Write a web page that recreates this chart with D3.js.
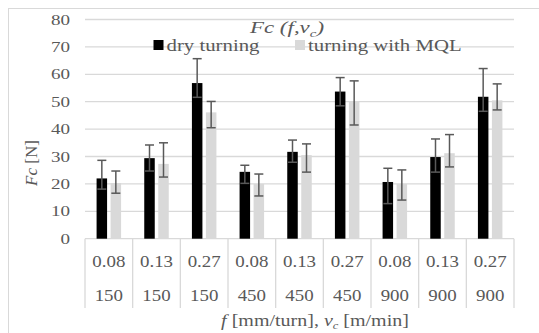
<!DOCTYPE html>
<html>
<head>
<meta charset="utf-8">
<script src="https://cdn.jsdelivr.net/npm/d3@7"></script>
<style>
  body { margin: 0; background: #fff; }
  text { font-family: "Liberation Serif", "Times New Roman", serif; fill: #595959; }
</style>
</head>
<body>
<svg id="chart" width="539" height="333"></svg>
<script>
//// data
var feeds  = ["0.08", "0.13", "0.27", "0.08", "0.13", "0.27", "0.08", "0.13", "0.27"];
var speeds = ["150", "150", "150", "450", "450", "450", "900", "900", "900"];
var dry    = [22, 29.4, 56.8, 24.4, 31.7, 53.7, 20.7, 29.8, 51.8];
var dryHi  = [28.6, 34.2, 65.7, 26.8, 36.0, 58.8, 25.7, 36.4, 62.1];
var dryLo  = [18.1, 24.7, 51.6, 20.2, 27.9, 48.5, 12.8, 24.3, 46.5];
var mql    = [20.3, 27.3, 46.1, 20, 30.5, 50, 20, 31.2, 50.5];
var mqlHi  = [24.7, 35.0, 50.1, 23.6, 34.6, 57.6, 25.1, 38.0, 56.5];
var mqlLo  = [16.6, 22.5, 40.5, 15.6, 24.3, 41.5, 14.1, 26.2, 47.0];
var yTicks = [0, 10, 20, 30, 40, 50, 60, 70, 80];
var seriesNames = ["dry turning", "turning with MQL"];

//// define parameters
var svg = d3.select("svg#chart");
var plotL = 85, plotR = 514, plotT = 19.5, plotB = 238.7,
    barW = 10.5, gap = 3.5, capW = 4.5,
    gridCol = "#d9d9d9", errCol = "#595959",
    colors = ["#000000", "#d9d9d9"];

var x = d3.scaleBand().domain(d3.range(feeds.length)).range([plotL, plotR]);
var y = d3.scaleLinear().domain([0, 80]).range([plotB, plotT]);

// text helper, the picture is stretched sideways a bit
function label(px, py, size, sx, anchor) {
  return svg.append("g")
    .attr("transform", "translate(" + px + "," + py + ") scale(" + sx + ",1)")
    .append("text")
    .attr("font-size", size)
    .attr("text-anchor", anchor || "start");
}

// outer frame
svg.append("rect")
  .attr("x", 8.5).attr("y", 8.5)
  .attr("width", 560).attr("height", 360)
  .attr("fill", "none").attr("stroke", gridCol).attr("stroke-width", 1);

// gridlines
svg.selectAll("line.grid")
  .data(yTicks)
  .enter().append("line")
  .attr("class", "grid")
  .attr("x1", plotL).attr("x2", plotR)
  .attr("y1", function(d) { return y(d); })
  .attr("y2", function(d) { return y(d); })
  .attr("stroke", gridCol)
  .attr("stroke-width", 1.3);

// y tick labels
yTicks.forEach(function(t) {
  label(70, y(t) + 5, 15, 1.27, "end").text(t);
});

// category separators
var edges = d3.range(feeds.length + 1).map(function(i) {
  return i < feeds.length ? x(i) : x(i - 1) + x.bandwidth();
});
svg.selectAll("line.sep")
  .data(edges)
  .enter().append("line")
  .attr("class", "sep")
  .attr("x1", function(d) { return d; })
  .attr("x2", function(d) { return d; })
  .attr("y1", plotB).attr("y2", 308)
  .attr("stroke", gridCol)
  .attr("stroke-width", 1.3);

// category labels, two rows
feeds.forEach(function(f, i) {
  var cx = x(i) + x.bandwidth() / 2;
  label(cx, 267, 16, 1.18, "middle").text(f);
  label(cx, 301, 16, 1.18, "middle").text(speeds[i]);
});

// bars
var series = [
  {vals: dry, hi: dryHi, lo: dryLo, off: -gap / 2 - barW},
  {vals: mql, hi: mqlHi, lo: mqlLo, off: gap / 2}
];

series.forEach(function(s, k) {
  svg.selectAll("rect.bar" + k)
    .data(s.vals)
    .enter().append("rect")
    .attr("class", "bar" + k)
    .attr("x", function(d, i) { return x(i) + x.bandwidth() / 2 + s.off; })
    .attr("y", function(d) { return y(d); })
    .attr("width", barW)
    .attr("height", function(d) { return y(0) - y(d); })
    .attr("fill", colors[k]);
});

// error bars
series.forEach(function(s, k) {
  var g = svg.append("g")
    .attr("stroke", errCol)
    .attr("stroke-width", 1.5);
  s.vals.forEach(function(v, i) {
    var cx = x(i) + x.bandwidth() / 2 + s.off + barW / 2;
    g.append("line").attr("x1", cx).attr("x2", cx)
      .attr("y1", y(s.hi[i])).attr("y2", y(s.lo[i]));
    g.append("line").attr("x1", cx - capW).attr("x2", cx + capW)
      .attr("y1", y(s.hi[i])).attr("y2", y(s.hi[i]));
    g.append("line").attr("x1", cx - capW).attr("x2", cx + capW)
      .attr("y1", y(s.lo[i])).attr("y2", y(s.lo[i]));
  });
});

// legend
var legX = [153.5, 295];
seriesNames.forEach(function(n, k) {
  svg.append("rect")
    .attr("x", legX[k]).attr("y", 40)
    .attr("width", 10).attr("height", 10)
    .attr("fill", colors[k]);
  label(legX[k] + 13, 50.5, 16, 1.3, "start").text(n);
});

// title Fc (f,vc)
var title = label(287, 33, 17, 1.35, "middle").attr("font-style", "italic");
title.append("tspan").text("Fc (f,v");
title.append("tspan").attr("font-size", 11).attr("dy", 4).text("c");
title.append("tspan").attr("dy", -4).text(")");

// y axis title
var yt = svg.append("text")
  .attr("transform", "translate(37,163) rotate(-90)")
  .attr("text-anchor", "middle")
  .attr("font-size", 17);
yt.append("tspan").attr("font-style", "italic").text("Fc");
yt.append("tspan").text(" [N]");

// x axis title
var xt = label(315, 326, 16, 1.25, "middle");
xt.append("tspan").attr("font-style", "italic").text("f");
xt.append("tspan").text(" [mm/turn], ");
xt.append("tspan").attr("font-style", "italic").text("v");
xt.append("tspan").attr("font-size", 10).attr("dy", 3).attr("font-style", "italic").text("c");
xt.append("tspan").attr("dy", -3).text(" [m/min]");
</script>
</body>
</html>
